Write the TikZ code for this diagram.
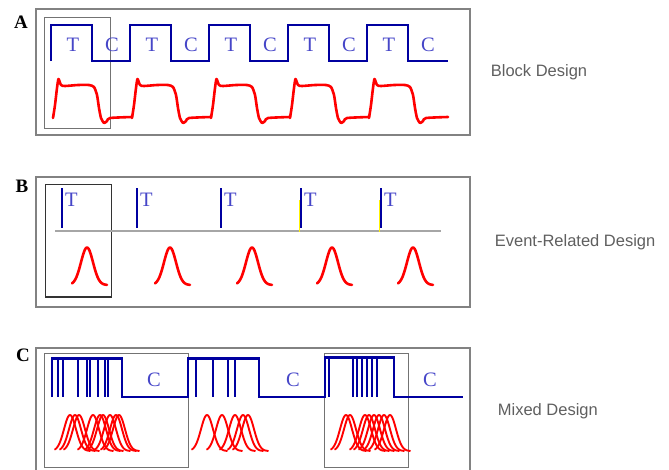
\documentclass[tikz,border=0pt]{standalone}
\usepackage{fontspec}
\setmainfont{Liberation Serif}
\newfontfamily\descfont{Liberation Sans}
\usepackage{tikz}
\usetikzlibrary{positioning}
\usepackage{xcolor}
\definecolor{sigblue}{RGB}{0,0,160}
\definecolor{txtblue}{RGB}{70,70,200}
\definecolor{hrfred}{RGB}{255,0,0}
\definecolor{boxgray}{RGB}{130,130,130}
\definecolor{descgray}{RGB}{95,95,95}

\begin{document}
\begin{tikzpicture}[x=1pt, y=-1pt,
    panelbox/.style={draw=boxgray, line width=1.3pt, rectangle, inner sep=0pt},
    sig/.style={draw=sigblue, line width=2.8pt},
    hrf/.style={draw=hrfred, line width=2.6pt, line join=round, line cap=round},
    cond/.style={text=txtblue, font=\fontsize{20.5}{20}\selectfont, inner sep=0pt},
    letter/.style={font=\bfseries\fontsize{19}{19}\selectfont, inner sep=0pt},
    design/.style={text=descgray, font=\descfont\fontsize{16.5}{18}\selectfont, inner sep=0pt}]
    \useasboundingbox (0,0) rectangle (669,469);
    \clip (0,0) rectangle (669,469);

    % Block design
    \node[letter] (lblA) at (21,22.5) {A};
    \node[panelbox, minimum width=434pt, minimum height=126pt] (boxA) at (253,72) {};
    \draw[draw=gray!90!black, line width=1pt] (44,17) rectangle (110,128);
    \draw[sig] (51,61) foreach \k in {0,...,4} {
        -- ({51+79*\k},61) -- ({51+79*\k},25) -- ({92+79*\k},25) -- ({92+79*\k},61)
    } -- (448,61);
    \foreach \k in {0,...,4} {
        \node[cond] (tA\k) at ({73+79*\k},44.5) {T};
        \node[cond] (cA\k) at ({112+79*\k},44.5) {C};
        \draw[hrf, xshift={79*\k}] plot[smooth, tension=0.4] coordinates {
            (53,118) (55,105) (57,88) (58.5,79) (61,85) (65,86) (78,85) (89,85)
            (94,87) (97,95) (99,108) (101,118) (104,123) (107,121) (110,118) (132,117)};
    }
    \node[design, right=20pt of boxA] (descA) {Block Design};

    % Event-related design
    \node[letter] (lblB) at (22,186.5) {B};
    \node[panelbox, minimum width=434pt, minimum height=130pt] (boxB) at (253,242) {};
    \draw[draw=black!80, line width=1.1pt] (45.5,184.5) rectangle (111.5,297);
    \draw[draw=gray!70, line width=1.3pt] (55,231) -- (441,231);
    \draw[draw=yellow, line width=0.6pt] (299.5,200) -- (299.5,232);
    \draw[draw=yellow, line width=0.6pt] (379.5,200) -- (379.5,232);
    \foreach \s [count=\i] in {62,137,221,301,381} {
        \draw[sig, line width=2.4pt] (\s,188) -- (\s,228);
        \node[cond, anchor=west] (tB\i) at ({\s+3},200) {T};
    }
    \foreach \c in {87,170,252,332,413}
        \draw[hrf] plot[domain=-15:20, samples=41, smooth]
            ({\c+\x},{285-37.5*exp(-((\x)*(\x))/72)});
    \node[design, right=24pt of boxB] (descB) {Event-Related Design};

    % Mixed design
    \node[letter] (lblC) at (23,355.5) {C};
    \node[panelbox, minimum width=434pt, minimum height=127pt] (boxC) at (253,411.5) {};
    \draw[draw=gray!90!black, line width=1pt] (44,353) rectangle (188,467);
    \draw[draw=gray!90!black, line width=1pt] (324,353) rectangle (408,467);
    \draw[sig, line width=2.5pt] (52,397) -- (52,358.5) -- (122,358.5) -- (122,397)
        -- (188,397) -- (188,358.5) -- (259,358.5) -- (259,397)
        -- (325,397) -- (325,357.5) -- (394,357.5) -- (394,397) -- (463,397);
    \foreach \s in {58,63,78,87,90,98,105,108,196,213,228,235,329,353,357,362,367,372,377}
        \draw[sig, line width=2.1pt] (\s,358.5) -- (\s,397);
    \node[cond] (cC1) at (154,380) {C};
    \node[cond] (cC2) at (293,380) {C};
    \node[cond] (cC3) at (430,380) {C};
    \foreach \c in {70,75,79,93,100,103,110,116,119,207,222,235,243,248,346,350,365,369,374,379,384,390}
        \draw[hrf, line width=1.9pt] plot[domain=-15:20, samples=41, smooth]
            ({\c+\x},{451-36*exp(-((\x)*(\x))/72)});
    \node[design, right=27pt of boxC] (descC) {Mixed Design};
\end{tikzpicture}
\end{document}
